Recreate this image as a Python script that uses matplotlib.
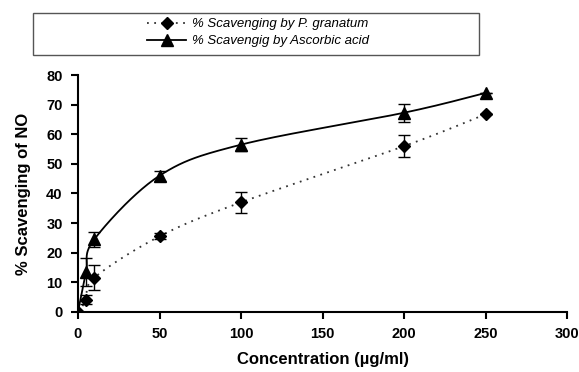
import numpy as np
import matplotlib
matplotlib.use("Agg")
import matplotlib.pyplot as plt
from matplotlib.lines import Line2D
from matplotlib.patches import Rectangle

plt.rcParams['font.family'] = ['Liberation Sans', 'DejaVu Sans']

conc = [0, 5, 10, 50, 100, 200, 250]
pg_vals = [0, 4.0, 11.5, 25.5, 37.0, 56.0, 66.8]
pg_err = [0, 1.5, 4.3, 1.0, 3.5, 3.7, 0]
aa_vals = [0, 13.5, 24.5, 46.0, 56.5, 67.3, 74.0]
aa_err = [0, 4.7, 2.5, 1.7, 2.1, 3.0, 0]
xticks = [0, 50, 100, 150, 200, 250, 300]
yticks = [0, 10, 20, 30, 40, 50, 60, 70, 80]


def smooth(x, y, n=40):
    # Bezier smoothing like a spreadsheet "smoothed line"
    x = np.asarray(x, float); y = np.asarray(y, float)
    px, py = [], []
    for i in range(len(x) - 1):
        x0, y0 = (x[i - 1], y[i - 1]) if i > 0 else (x[i], y[i])
        x3, y3 = (x[i + 2], y[i + 2]) if i + 2 < len(x) else (x[i + 1], y[i + 1])
        x1, y1, x2, y2 = x[i], y[i], x[i + 1], y[i + 1]
        t = 1 / 6
        c1x, c1y = x1 + (x2 - x0) * t, y1 + (y2 - y0) * t
        c2x, c2y = x2 - (x3 - x1) * t, y2 - (y3 - y1) * t
        s = np.linspace(0, 1, n)
        bx = (1 - s) ** 3 * x1 + 3 * (1 - s) ** 2 * s * c1x + 3 * (1 - s) * s ** 2 * c2x + s ** 3 * x2
        by = (1 - s) ** 3 * y1 + 3 * (1 - s) ** 2 * s * c1y + 3 * (1 - s) * s ** 2 * c2y + s ** 3 * y2
        px.extend(bx); py.extend(by)
    return np.array(px), np.array(py)


fig = plt.figure(figsize=(5.79, 3.72), dpi=100)
ax = fig.add_axes([0.1347, 0.162, 0.845, 0.636])

sx, sy = smooth(conc, aa_vals)
ax.plot(sx, sy, color='black', lw=1.3, zorder=2)
ax.errorbar(conc, aa_vals, yerr=aa_err, fmt='^', color='black', ms=9,
            ecolor='black', elinewidth=1, capsize=4, capthick=1, zorder=3)

sx2, sy2 = smooth(conc, pg_vals)
ax.plot(sx2, sy2, color='#333333', lw=1.3, ls=(0, (1, 3)), zorder=2)
ax.errorbar(conc, pg_vals, yerr=pg_err, fmt='D', color='black', ms=6.5,
            ecolor='black', elinewidth=1, capsize=4, capthick=1, zorder=3)

ax.set_xlim(0, 300)
ax.set_ylim(0, 80)
ax.set_xticks(xticks)
ax.set_yticks(yticks)
ax.set_xticklabels([str(v) for v in xticks], fontweight='bold', fontsize=10.5)
ax.set_yticklabels([str(v) for v in yticks], fontweight='bold', fontsize=10.5)
ax.spines['top'].set_visible(False)
ax.spines['right'].set_visible(False)
ax.spines['left'].set_linewidth(1.5)
ax.spines['bottom'].set_linewidth(1.5)
ax.tick_params(direction='out', length=5, width=1.5, pad=6)
ax.set_xlabel('Concentration (µg/ml)', fontweight='bold', fontsize=12, labelpad=8)
ax.set_ylabel('% Scavenging of NO', fontweight='bold', fontsize=12, labelpad=11)

# legend box
W, H = 579, 372
fig.add_artist(Rectangle((33 / W, 1 - 55 / H), (479 - 33) / W, (55 - 13) / H,
                         transform=fig.transFigure, fill=False,
                         edgecolor='#555555', lw=1))
handles = [
    Line2D([0], [0], color='#333333', lw=1.3, ls=(0, (1, 3)), marker='D', ms=6.5,
           markerfacecolor='black', markeredgecolor='black'),
    Line2D([0], [0], color='black', lw=1.3, marker='^', ms=9,
           markerfacecolor='black', markeredgecolor='black'),
]
labels = ['% Scavenging by P. granatum', '% Scavengig by Ascorbic acid']
leg = fig.legend(handles, labels, loc='center', bbox_to_anchor=(0.445, 0.912),
                 frameon=False, prop={'style': 'italic', 'size': 9.5},
                 handlelength=3.0, handletextpad=0.4,
                 borderpad=0.2, labelspacing=0.35)

fig.savefig('out.png', dpi=100)
